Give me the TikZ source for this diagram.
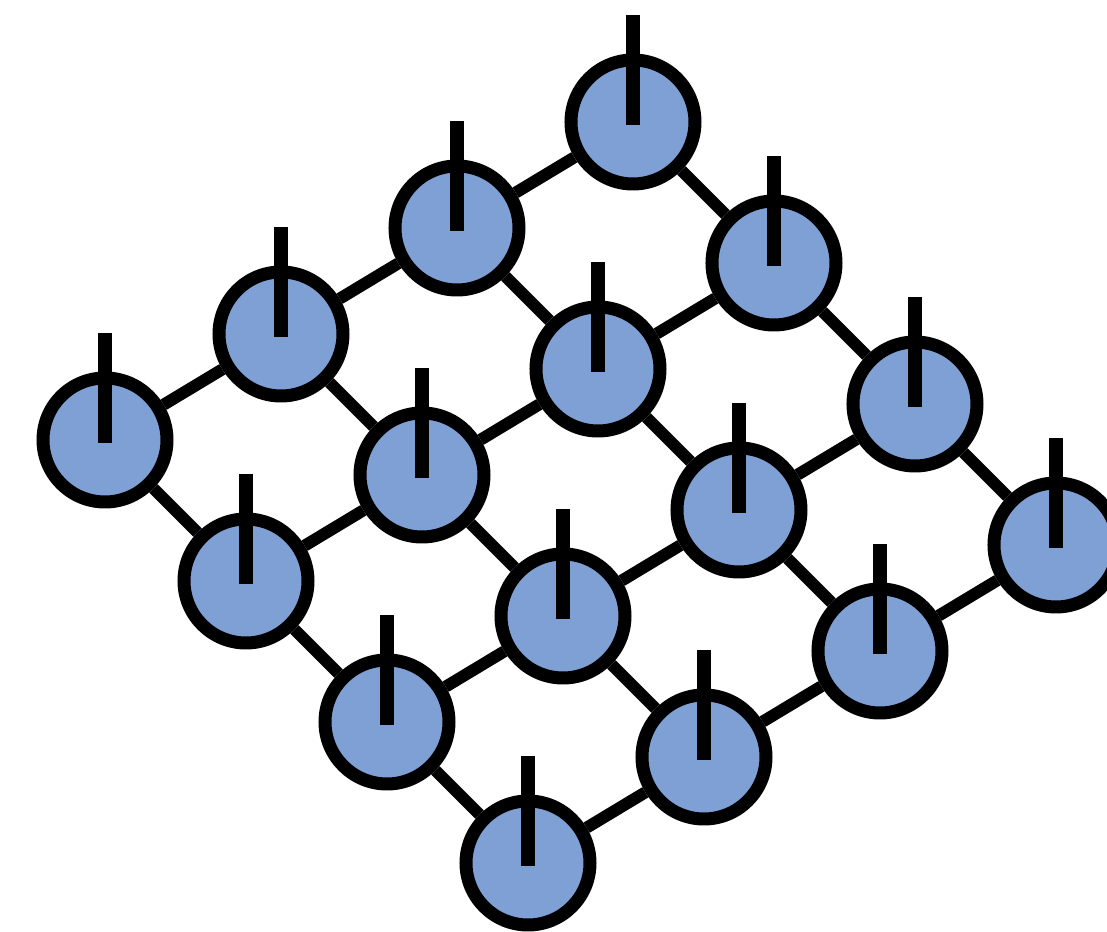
\documentclass[tikz,border=0pt]{standalone}
\definecolor{spinblue}{RGB}{127,160,213}
\tikzset{
  spin/.style={circle,draw,fill=spinblue,line width=3.7pt,minimum size=1.24cm,inner sep=0pt},
  bond/.style={line width=3.4pt},
  spinbar/.style={line width=4pt}
}
\begin{document}
\begin{tikzpicture}[x=1cm,y=1cm]
\useasboundingbox (0,0) rectangle (11.07,9.32);
% lattice sites
\foreach \i in {0,...,3}
  \foreach \j in {0,...,3}
    \node[spin] (s\i\j) at ({1.05+1.76*\i+1.41*\j},{4.92+1.06*\i-1.41*\j}) {};
% bonds
\foreach \i [evaluate=\i as \ni using int(\i+1)] in {0,1,2}
  \foreach \j in {0,...,3} {
    \draw[bond] (s\i\j) -- (s\ni\j);
    \draw[bond] (s\j\i) -- (s\j\ni);
  }
% spins pointing up
\foreach \i in {0,...,3}
  \foreach \j in {0,...,3}
    \draw[spinbar] ([yshift=-0.03cm]s\i\j.center) -- ++(0,1.1);
\end{tikzpicture}
\end{document}
